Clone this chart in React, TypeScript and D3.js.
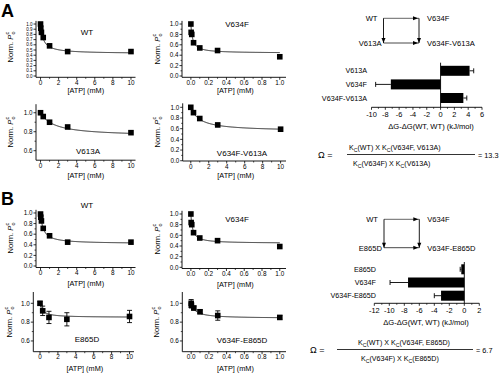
import React from "react";
import * as d3 from "d3";

const FONT = "'Liberation Sans', Arial, sans-serif";

// ---------- Data: ATP dose-response (normalized Po) ----------
const atpWT = [0, 0.03, 0.1, 0.3, 1, 3, 10];
const poWT_A = [1.0, 0.92, 0.84, 0.74, 0.58, 0.47, 0.47];
const poWT_B = [0.98, 0.92, 0.85, 0.71, 0.57, 0.45, 0.45];

const atpV634F = [0, 0.003, 0.01, 0.03, 0.1, 0.3, 1.0];
const poV634F_A = [1.0, 0.84, 0.8, 0.64, 0.54, 0.49, 0.37];
const poV634F_B = [1.0, 0.84, 0.8, 0.65, 0.55, 0.5, 0.39];

const atpV613A = [0, 0.3, 1, 3, 10];
const poV613A = [1.0, 0.96, 0.9, 0.85, 0.79];

const atpV634F_V613A = [0, 0.3, 1, 3, 10];
const poV634F_V613A = [1.0, 0.9, 0.79, 0.67, 0.59];

const atpE865D = [0, 0.3, 1, 3, 10];
const poE865D = [1.0, 0.92, 0.85, 0.83, 0.86];
const errE865D = [0.02, 0.05, 0.065, 0.07, 0.065];

const atpV634F_E865D = [0, 0.003, 0.03, 0.1, 0.3, 1.0];
const poV634F_E865D = [1.0, 0.98, 0.95, 0.91, 0.87, 0.85];
const errV634F_E865D = [0.04, 0.03, 0.02, 0.02, 0.05, 0.02];

// fitted inhibition curves: Po = 1 - Imax * [ATP] / (Kc + [ATP])
const fitImax = { WT_A: 0.57, V634F_A: 0.56, V613A: 0.25, V634F_V613A: 0.45, WT_B: 0.58, V634F_B: 0.55, E865D: 0.15, V634F_E865D: 0.16 };
const fitKc = { WT_A: 0.3, V634F_A: 0.02, V613A: 1.5, V634F_V613A: 1.0, WT_B: 0.3, V634F_B: 0.02, E865D: 0.3, V634F_E865D: 0.05 };

// ---------- Data: coupling energies ----------
const barCatsA = ["V613A", "V634F", "V634F-V613A"];
const barValsA = [4.2, -7.2, 3.3];
const barErrA = [0.6, 2.2, 0.5];
const barTicksA = [-10, -8, -6, -4, -2, 0, 2, 4, 6];

const barCatsB = ["E865D", "V634F", "V634F-E865D"];
const barValsB = [-0.4, -7.5, -3.1];
const barErrB = [0.15, 2.4, 0.9];
const barTicksB = [-12, -10, -8, -6, -4, -2, 0, 2];

const ticks10 = [0, 2, 4, 6, 8, 10];
const minor10 = [1, 3, 5, 7, 9];
const ticks1 = [0, 0.2, 0.4, 0.6, 0.8, 1.0];
const minor1 = [0.1, 0.3, 0.5, 0.7, 0.9];
const ticksY01 = [0, 0.1, 0.2, 0.3, 0.4, 0.5, 0.6, 0.7, 0.8, 0.9, 1.0];
const ticksY6 = [0.6, 0.8, 1.0];
const minorY6 = [0.7, 0.9];

type Cfg = {
  xDom: [number, number]; xRange: [number, number];
  yDom: [number, number]; yRange: [number, number];
  xTicks: number[]; xMinor: number[]; xFmt: (d: number) => string;
  yTicks: number[]; yMinor: number[]; yFont?: number;
  name: string; nameX: number; nameY: number;
  ylabX: number; ylabY: number; xlabY: number;
};

const f1 = (d: number) => d.toFixed(1);
const f0 = (d: number) => String(d);

function Scatter({ cfg, xs, ys, errs, imax, kc }: { cfg: Cfg; xs: number[]; ys: number[]; errs?: number[]; imax: number; kc: number }) {
  const x = d3.scaleLinear().domain(cfg.xDom).range(cfg.xRange);
  const y = d3.scaleLinear().domain(cfg.yDom).range(cfg.yRange);
  const xmax = d3.max(xs) as number;
  const pts: [number, number][] = d3.range(0, 601).map((i) => {
    const a = xmax * Math.pow(i / 600, 2);
    return [a, 1 - (imax * a) / (kc + a)];
  });
  const line = d3.line<[number, number]>().x((d) => x(d[0])).y((d) => y(d[1]));
  const x0 = cfg.xRange[0];
  const yb = cfg.yRange[0];
  const s = 5.6;
  const xmid = (x(0) + x(xmax)) / 2;
  const yf = cfg.yFont ?? 6.3;
  return (
    <g>
      <line x1={x0} x2={cfg.xRange[1]} y1={yb} y2={yb} stroke="#000" strokeWidth={0.9} />
      <line x1={x0} x2={x0} y1={yb} y2={cfg.yRange[1]} stroke="#000" strokeWidth={0.9} />
      {cfg.xTicks.map((t) => (
        <g key={"xt" + t}>
          <line x1={x(t)} x2={x(t)} y1={yb} y2={yb + 2.5} stroke="#000" strokeWidth={0.8} />
          <text x={x(t)} y={yb + 7.6} fontSize={6.4} textAnchor="middle" fontFamily={FONT}>{cfg.xFmt(t)}</text>
        </g>
      ))}
      {cfg.xMinor.map((t) => (
        <line key={"xm" + t} x1={x(t)} x2={x(t)} y1={yb} y2={yb + 1.5} stroke="#000" strokeWidth={0.7} />
      ))}
      {cfg.yTicks.map((t) => (
        <g key={"yt" + t}>
          <line x1={x0} x2={x0 - 2.5} y1={y(t)} y2={y(t)} stroke="#000" strokeWidth={0.8} />
          <text x={x0 - 3.5} y={y(t) + yf * 0.35} fontSize={yf} textAnchor="end" fontFamily={FONT}>{t.toFixed(1)}</text>
        </g>
      ))}
      {cfg.yMinor.map((t) => (
        <line key={"ym" + t} x1={x0} x2={x0 - 1.5} y1={y(t)} y2={y(t)} stroke="#000" strokeWidth={0.7} />
      ))}
      <path d={line(pts) as string} fill="none" stroke="#000" strokeWidth={0.9} />
      {errs && xs.map((a, i) => (
        <g key={"e" + i}>
          <line x1={x(a)} x2={x(a)} y1={y(ys[i] - errs[i])} y2={y(ys[i] + errs[i])} stroke="#000" strokeWidth={0.9} />
          <line x1={x(a) - 2.5} x2={x(a) + 2.5} y1={y(ys[i] - errs[i])} y2={y(ys[i] - errs[i])} stroke="#000" strokeWidth={0.9} />
          <line x1={x(a) - 2.5} x2={x(a) + 2.5} y1={y(ys[i] + errs[i])} y2={y(ys[i] + errs[i])} stroke="#000" strokeWidth={0.9} />
        </g>
      ))}
      {xs.map((a, i) => (
        <rect key={"p" + i} x={x(a) - s / 2} y={y(ys[i]) - s / 2} width={s} height={s} fill="#000" />
      ))}
      <text x={cfg.nameX} y={cfg.nameY} fontSize={8} textAnchor="middle" fontFamily={FONT}>{cfg.name}</text>
      <text x={xmid} y={cfg.xlabY} fontSize={7.3} textAnchor="middle" fontFamily={FONT}>[ATP] (mM)</text>
      <text transform={`translate(${cfg.ylabX},${cfg.ylabY}) rotate(-90)`} fontSize={7.6} textAnchor="middle" fontFamily={FONT}>
        Norm. <tspan fontStyle="italic">P</tspan>
        <tspan fontSize={5.5} dy={2}>o</tspan>
        <tspan fontSize={5.5} dx={-3} dy={-6}>c</tspan>
      </text>
    </g>
  );
}

function Bars({ cats, vals, errs, ticks, xRange, yCenters, axisY, zeroTop, labelRight, titleX }: {
  cats: string[]; vals: number[]; errs: number[]; ticks: number[]; xRange: [number, number];
  yCenters: [number, number]; axisY: number; zeroTop: number; labelRight: number; titleX: number;
}) {
  const x = d3.scaleLinear().domain([ticks[0], ticks[ticks.length - 1]]).range(xRange);
  const y = d3.scalePoint<string>().domain(cats).range(yCenters);
  const h = 10;
  const minor = d3.range(ticks[0] + 1, ticks[ticks.length - 1], 2);
  return (
    <g>
      {cats.map((c, i) => {
        const v = vals[i];
        const e = errs[i];
        const cy = y(c) as number;
        const tip = v >= 0 ? v + e : v - e;
        return (
          <g key={c}>
            <rect x={Math.min(x(0), x(v))} y={cy - h / 2} width={Math.abs(x(v) - x(0))} height={h} fill="#000" />
            <line x1={x(v)} x2={x(tip)} y1={cy} y2={cy} stroke="#000" strokeWidth={0.9} />
            <line x1={x(tip)} x2={x(tip)} y1={cy - 2.5} y2={cy + 2.5} stroke="#000" strokeWidth={0.9} />
            <text x={labelRight} y={cy + 2.6} fontSize={7.2} textAnchor="end" fontFamily={FONT}>{c}</text>
          </g>
        );
      })}
      <line x1={x(0)} x2={x(0)} y1={zeroTop} y2={axisY} stroke="#000" strokeWidth={0.9} />
      <line x1={xRange[0]} x2={xRange[1]} y1={axisY} y2={axisY} stroke="#000" strokeWidth={0.9} />
      {ticks.map((t) => (
        <g key={t}>
          <line x1={x(t)} x2={x(t)} y1={axisY} y2={axisY + 2.5} stroke="#000" strokeWidth={0.8} />
          <text x={x(t)} y={axisY + 10} fontSize={7.4} textAnchor="middle" fontFamily={FONT}>{String(t)}</text>
        </g>
      ))}
      {minor.map((t) => (
        <line key={"m" + t} x1={x(t)} x2={x(t)} y1={axisY} y2={axisY + 1.5} stroke="#000" strokeWidth={0.7} />
      ))}
      <text x={titleX} y={axisY + 22} fontSize={7.6} textAnchor="middle" fontFamily={FONT}>ΔG-ΔG(WT, WT) (kJ/mol)</text>
    </g>
  );
}

function Cycle({ tl, tr, bl, br, xL, xR, yT, yB }: { tl: string; tr: string; bl: string; br: string; xL: number; xR: number; yT: number; yB: number }) {
  const ah = (px: number, py: number, dir: "r" | "d") =>
    dir === "r"
      ? `M${px},${py} L${px - 5},${py - 2} L${px - 5},${py + 2} Z`
      : `M${px},${py} L${px - 2},${py - 5} L${px + 2},${py - 5} Z`;
  return (
    <g fontFamily={FONT} fontSize={7.6}>
      <line x1={xL} x2={xR} y1={yT} y2={yT} stroke="#555" strokeWidth={0.9} />
      <line x1={xL} x2={xR} y1={yB} y2={yB} stroke="#333" strokeWidth={0.9} />
      <line x1={xL} x2={xL} y1={yT} y2={yB} stroke="#000" strokeWidth={0.9} />
      <line x1={xR} x2={xR} y1={yT} y2={yB} stroke="#000" strokeWidth={0.9} />
      <path d={ah(xR - 1, yT, "r")} fill="#000" />
      <path d={ah(xR - 1, yB, "r")} fill="#000" />
      <path d={ah(xL, yB, "d")} fill="#000" />
      <path d={ah(xR, yB, "d")} fill="#000" />
      <text x={xL - 6} y={yT + 3} textAnchor="end">{tl}</text>
      <text x={xR + 8} y={yT + 3}>{tr}</text>
      <text x={xL - 2} y={yB + 3} textAnchor="end">{bl}</text>
      <text x={xR + 8} y={yB + 3}>{br}</text>
    </g>
  );
}

function Equation({ omegaX, lineX1, lineX2, lineY, num, den, numX, denX, result }: {
  omegaX: number; lineX1: number; lineX2: number; lineY: number; num: [string, string]; den: [string, string]; numX: number; denX: number; result: string;
}) {
  const sub = (s: string) => (
    <>
      K<tspan fontSize={5.2} dy={2}>C</tspan><tspan dy={-2}>({s})</tspan>
    </>
  );
  return (
    <g fontFamily={FONT} fontSize={7.1}>
      <text x={omegaX} y={lineY + 3} fontSize={9}>Ω =</text>
      <line x1={lineX1} x2={lineX2} y1={lineY} y2={lineY} stroke="#000" strokeWidth={0.8} />
      <text x={numX} y={lineY - 5}>{sub(num[0])} X {sub(num[1])}</text>
      <text x={denX} y={lineY + 11}>{sub(den[0])} X {sub(den[1])}</text>
      <text x={lineX2 + 3} y={lineY + 3} fontSize={7.3}>= {result}</text>
    </g>
  );
}

const cfgWT_A: Cfg = {
  xDom: [-0.5, 10.5], xRange: [36, 135.5], yDom: [-0.025, 1.06], yRange: [77.3, 20.9],
  xTicks: ticks10, xMinor: minor10, xFmt: f0, yTicks: ticksY01, yMinor: [], yFont: 4.5,
  name: "WT", nameX: 87, nameY: 35, ylabX: 13, ylabY: 47, xlabY: 93,
};
const cfgV634F_A: Cfg = {
  xDom: [-0.1, 1.07], xRange: [182, 286], yDom: [-0.025, 1.06], yRange: [77.3, 20.9],
  xTicks: ticks1, xMinor: minor1, xFmt: f1, yTicks: ticks1, yMinor: minor1,
  name: "V634F", nameX: 237, nameY: 27, ylabX: 160, ylabY: 49, xlabY: 93,
};
const cfgV613A: Cfg = {
  xDom: [-0.5, 10.5], xRange: [36, 135.5], yDom: [0.5, 1.09], yRange: [160.2, 104.2],
  xTicks: ticks10, xMinor: minor10, xFmt: f0, yTicks: ticksY6, yMinor: minorY6,
  name: "V613A", nameX: 88, nameY: 154, ylabX: 13, ylabY: 132, xlabY: 177.5,
};
const cfgV634F_V613A: Cfg = {
  xDom: [-0.9, 10.6], xRange: [182.7, 286], yDom: [-0.005, 1.075], yRange: [161, 103.3],
  xTicks: ticks10, xMinor: minor10, xFmt: f0, yTicks: ticks1, yMinor: minor1,
  name: "V634F-V613A", nameX: 242, nameY: 156, ylabX: 160, ylabY: 132, xlabY: 178,
};
const cfgWT_B: Cfg = {
  xDom: [-0.5, 10.5], xRange: [36, 135.5], yDom: [-0.028, 1.06], yRange: [267.5, 209.8],
  xTicks: ticks10, xMinor: minor10, xFmt: f0, yTicks: ticks1, yMinor: minor1,
  name: "WT", nameX: 87, nameY: 208, ylabX: 13, ylabY: 238, xlabY: 285.5,
};
const cfgV634F_B: Cfg = {
  xDom: [-0.1, 1.07], xRange: [182, 286], yDom: [-0.022, 1.06], yRange: [268.5, 210.8],
  xTicks: ticks1, xMinor: minor1, xFmt: f1, yTicks: ticks1, yMinor: minor1,
  name: "V634F", nameX: 237, nameY: 222, ylabX: 160, ylabY: 239, xlabY: 286.5,
};
const cfgE865D: Cfg = {
  xDom: [-0.75, 10.5], xRange: [33.3, 134], yDom: [0.486, 1.12], yRange: [351.7, 292],
  xTicks: ticks10, xMinor: minor10, xFmt: f0, yTicks: ticksY6, yMinor: minorY6,
  name: "E865D", nameX: 87, nameY: 342, ylabX: 12, ylabY: 322, xlabY: 371,
};
const cfgV634F_E865D: Cfg = {
  xDom: [-0.1, 1.07], xRange: [182.3, 286], yDom: [0.486, 1.12], yRange: [351.7, 292],
  xTicks: ticks1, xMinor: minor1, xFmt: f1, yTicks: ticksY6, yMinor: minorY6,
  name: "V634F-E865D", nameX: 242, nameY: 343, ylabX: 159, ylabY: 322, xlabY: 371,
};

export default function App() {
  return (
    <div style={{ position: "absolute", left: 0, top: 0 }}>
      <svg width={500} height={375} viewBox="0 0 500 375" style={{ display: "block", background: "#fff" }}>
        <rect width={500} height={375} fill="#fff" />
        <text x={1} y={17} fontSize={18} fontWeight="bold" fontFamily={FONT}>A</text>
        <text x={1} y={205} fontSize={18} fontWeight="bold" fontFamily={FONT}>B</text>

        <Scatter cfg={cfgWT_A} xs={atpWT} ys={poWT_A} imax={fitImax.WT_A} kc={fitKc.WT_A} />
        <Scatter cfg={cfgV634F_A} xs={atpV634F} ys={poV634F_A} imax={fitImax.V634F_A} kc={fitKc.V634F_A} />
        <Scatter cfg={cfgV613A} xs={atpV613A} ys={poV613A} imax={fitImax.V613A} kc={fitKc.V613A} />
        <Scatter cfg={cfgV634F_V613A} xs={atpV634F_V613A} ys={poV634F_V613A} imax={fitImax.V634F_V613A} kc={fitKc.V634F_V613A} />

        <Scatter cfg={cfgWT_B} xs={atpWT} ys={poWT_B} imax={fitImax.WT_B} kc={fitKc.WT_B} />
        <Scatter cfg={cfgV634F_B} xs={atpV634F} ys={poV634F_B} imax={fitImax.V634F_B} kc={fitKc.V634F_B} />
        <Scatter cfg={cfgE865D} xs={atpE865D} ys={poE865D} errs={errE865D} imax={fitImax.E865D} kc={fitKc.E865D} />
        <Scatter cfg={cfgV634F_E865D} xs={atpV634F_E865D} ys={poV634F_E865D} errs={errV634F_E865D} imax={fitImax.V634F_E865D} kc={fitKc.V634F_E865D} />

        <Cycle tl="WT" tr="V634F" bl="V613A" br="V634F-V613A" xL={383.5} xR={419} yT={18.3} yB={43} />
        <Bars cats={barCatsA} vals={barValsA} errs={barErrA} ticks={barTicksA} xRange={[371.5, 482]}
          yCenters={[70.8, 98]} axisY={107.3} zeroTop={62.7} labelRight={367} titleX={431} />
        <Equation omegaX={318} lineX1={347} lineX2={475} lineY={154.5} num={["WT", "V634F, V613A"]} den={["V634F", "V613A"]}
          numX={349} denX={353} result="13.3" />

        <Cycle tl="WT" tr="V634F" bl="E865D" br="V634F-E865D" xL={384} xR={419.3} yT={219.3} yB={247.7} />
        <Bars cats={barCatsB} vals={barValsB} errs={barErrB} ticks={barTicksB} xRange={[374.3, 479.3]}
          yCenters={[269.3, 295.7]} axisY={303.3} zeroTop={262} labelRight={376} titleX={426} />
        <Equation omegaX={310} lineX1={337} lineX2={473} lineY={349.5} num={["WT", "V634F, E865D"]} den={["V634F", "E865D"]}
          numX={358} denX={361} result="6.7" />
      </svg>
    </div>
  );
}
